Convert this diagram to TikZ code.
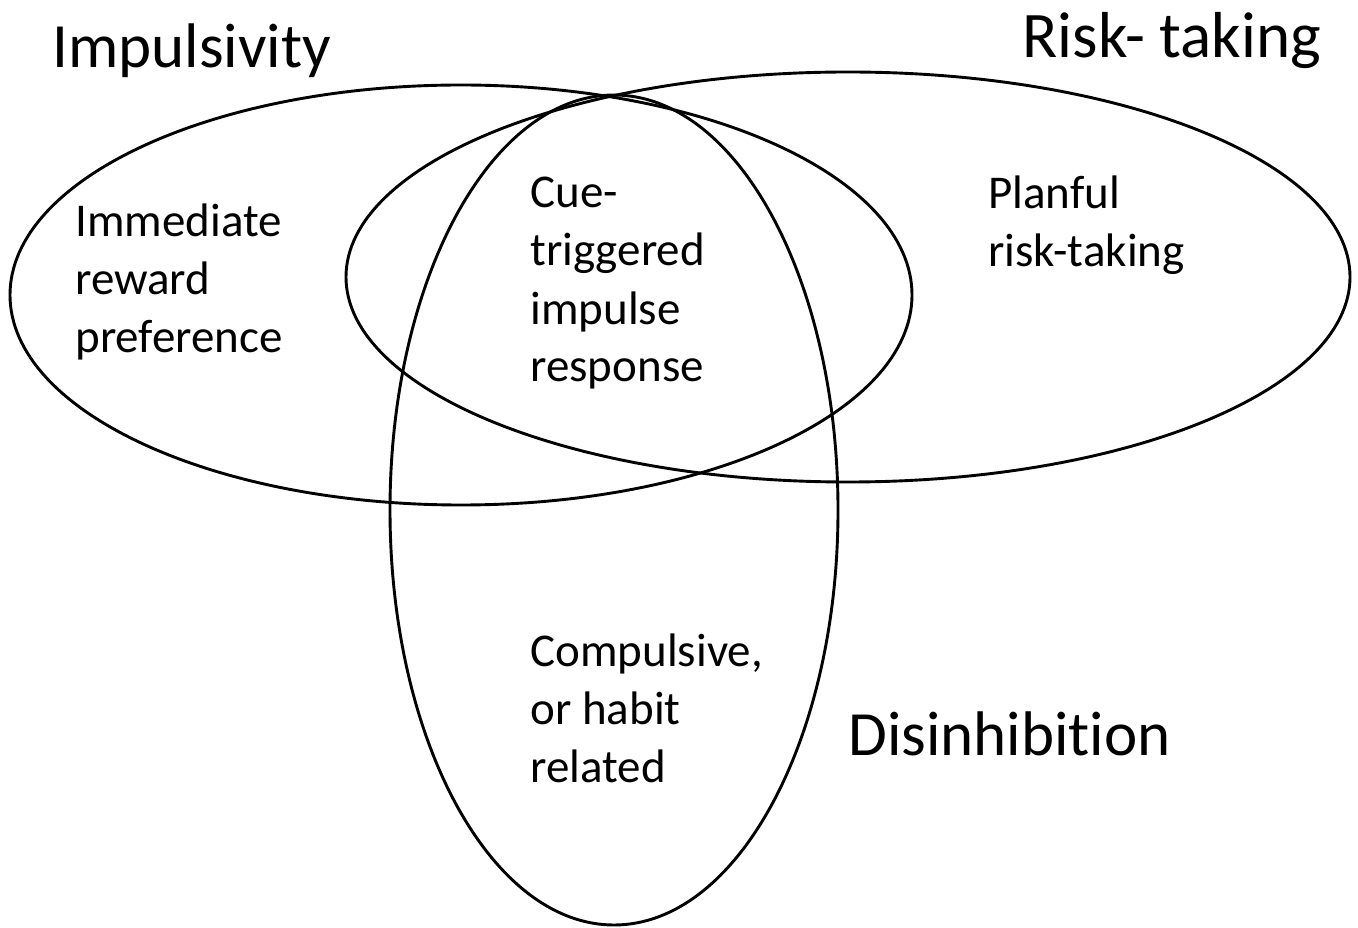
\documentclass[tikz,border=0pt]{standalone}
\usepackage{fontspec}
\setmainfont{Carlito}[Ligatures=NoCommon]

\begin{document}
\begin{tikzpicture}[x=0.5pt, y=0.5pt,
    zone/.style={draw=black, line width=1.45pt},
    heading/.style={font=\fontsize{31.5}{37}\selectfont, anchor=base west, inner sep=0pt},
    item/.style={font=\fontsize{23.5}{29}\selectfont, align=left, anchor=base west, inner sep=0pt}]
\useasboundingbox (0,0) rectangle (1358,927);
%% ── Impulsivity zone ─────────────────────────────────────────────────────
\draw[zone] (461,632) ellipse [x radius=451, y radius=210];
%% ── Risk-taking zone ─────────────────────────────────────────────────────
\draw[zone] (848,650) ellipse [x radius=502, y radius=205];
%% ── Disinhibition zone ───────────────────────────────────────────────────
\draw[zone] (614,417) ellipse [x radius=224, y radius=415];
%% ── Zone labels ──────────────────────────────────────────────────────────
\node[heading] (impLabel)  at (52,859)  {Impulsivity};
\node[heading, font=\fontsize{32.5}{37}\selectfont] (riskLabel) at (1022,869) {Risk- taking};
\node[heading] (disLabel)  at (848,172) {Disinhibition};
%% ── Region texts (anchored on the last line) ─────────────────────────────
\node[item] (immReward)  at (75,574)  {Immediate\\reward\\preference};
\node[item] (cueImpulse) at (530,545) {Cue-\\triggered\\impulse\\response};
\node[item] (planRisk)   at (988,660) {Planful\\risk-taking};
\node[item] (compHabit)  at (530,145) {Compulsive,\\or habit\\related};
\end{tikzpicture}
\end{document}
